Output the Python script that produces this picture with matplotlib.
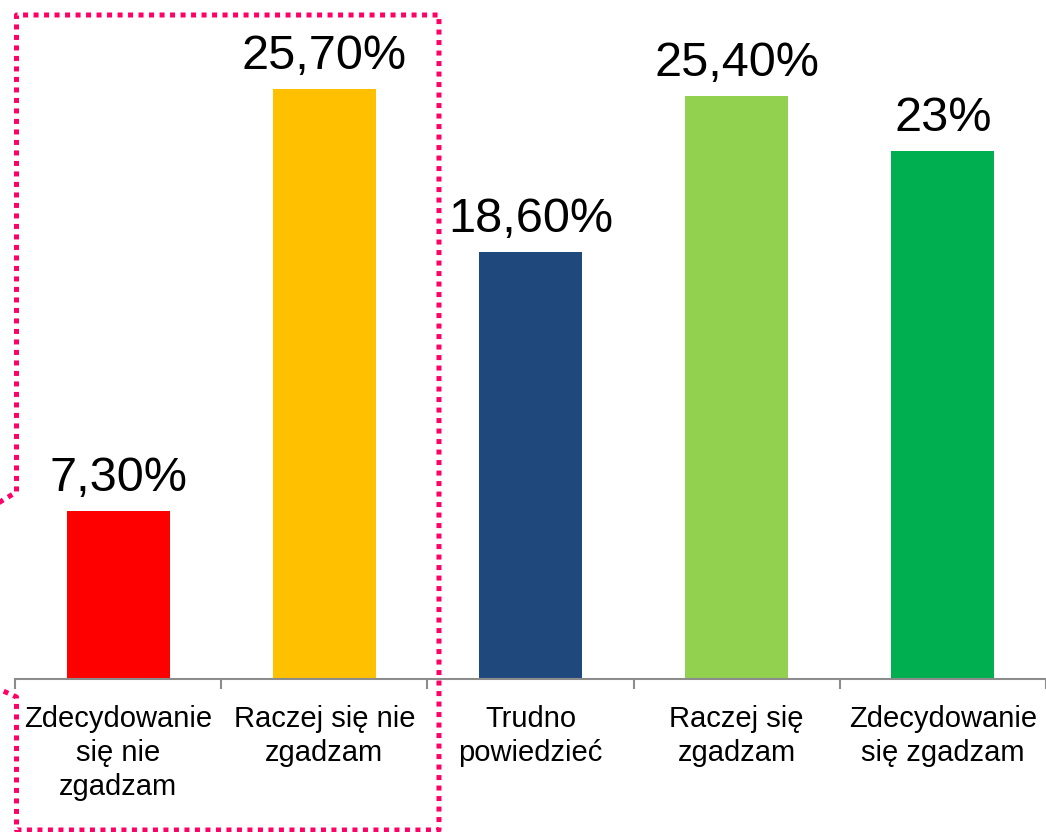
import matplotlib
matplotlib.use("Agg")
import matplotlib.pyplot as plt
from matplotlib.lines import Line2D

plt.rcParams['font.family'] = ['Liberation Sans', 'DejaVu Sans']

categories = ["Zdecydowanie\nsię nie\nzgadzam", "Raczej się nie\nzgadzam",
              "Trudno\npowiedzieć", "Raczej się\nzgadzam", "Zdecydowanie\nsię zgadzam"]
values = [7.3, 25.7, 18.6, 25.4, 23.0]
value_labels = ["7,30%", "25,70%", "18,60%", "25,40%", "23%"]
colors = ["#FF0000", "#FFC000", "#1F497D", "#92D050", "#00B050"]

W, H = 1046, 832
fig = plt.figure(figsize=(W / 100, H / 100), dpi=100)
base_px = 679
left_px = 15
step_px = 207.6
ax = fig.add_axes([left_px / W, (H - base_px) / H, (W - left_px) / W, base_px / H])

x = list(range(len(values)))
bars = ax.bar(x, values, width=0.5, color=colors, zorder=2)
ax.set_xlim(-0.5, -0.5 + (W - left_px) / step_px)
ax.set_ylim(0, base_px / 22.95)

for xi, v, lab in zip(x, values, value_labels):
    ax.annotate(lab, (xi, v), xytext=(0, 14.5), textcoords='offset points',
                ha='center', va='baseline', fontsize=35, color='black')

for s in ['top', 'right', 'left']:
    ax.spines[s].set_visible(False)
ax.spines['bottom'].set_color('#8C8C8C')
ax.spines['bottom'].set_linewidth(1.5)
ax.set_yticks([])
ax.set_xticks(x)
ax.set_xticklabels(categories, fontsize=21, linespacing=1.28)
ax.tick_params(axis='x', which='major', length=0, pad=18.5)
ax.set_xticks([i - 0.5 for i in range(len(values) + 1)], minor=True)
ax.tick_params(axis='x', which='minor', length=7.2, width=1.5, color='#8C8C8C', direction='out')

# dotted pink callout frame
px = [-10, 16.5, 16.5, 439, 439, 16.5, 16.5, -10]
py = [508, 492, 15, 15, 830, 830, 697, 685]
fig.add_artist(Line2D([p / W for p in px], [1 - p / H for p in py],
                      transform=fig.transFigure, color='#FF0066', lw=3.6,
                      linestyle=(0, (1, 1.1)), dash_capstyle='butt', zorder=10))

fig.savefig("out.png", dpi=100)
